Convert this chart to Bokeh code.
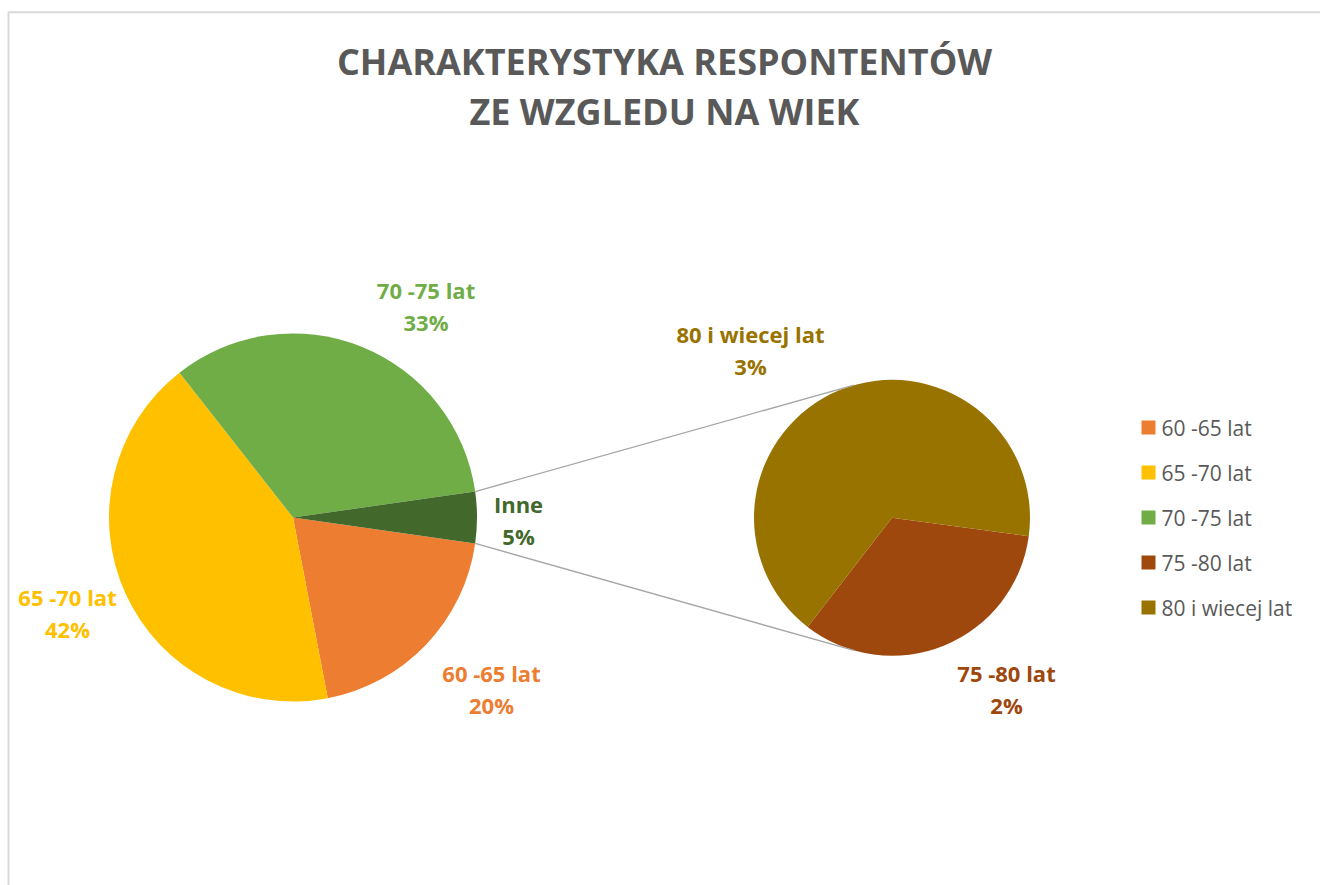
import math
from bokeh.plotting import figure
from bokeh.models import Range1d
from bokeh.core.properties import value
from bokeh.embed import file_html
from bokeh.resources import INLINE

# ---------------- data ----------------
title_lines = ["CHARAKTERYSTYKA RESPONTENTÓW", "ZE WZGLEDU NA WIEK"]
main_categories = ["60 -65 lat", "65 -70 lat", "70 -75 lat"]
main_values = [19.7, 42.4, 33.3]
other_categories = ["75 -80 lat", "80 i wiecej lat"]
other_values = [1.5, 3.0]
other_name = "Inne"
legend_labels = main_categories + other_categories

main_colors = ["#ED7D31", "#FFC000", "#70AD47"]
other_colors = ["#9E480E", "#997300"]
inne_color = "#43682B"
legend_colors = main_colors + other_colors

# ---------------- layout (page pixels) ----------------
W, H = 1320, 885
PX0, PY0 = 0, 0
MAIN_C = (292.5, 517.0)
MAIN_R = 184.0
SEC_C = (891.5, 517.3)
SEC_R = 138.0
SEC_START_DEG = -7.7
CONNECT_DEG = 106.0
# label anchors (centre of two-line block) in page pixels
main_label_xy = [(491, 688), (67, 612), (425.5, 305)]
inne_label_xy = (518, 519)
other_label_xy = [(1006, 688), (750, 349)]
LINE_GAP = 32

def Y(py):
    return -py

p = figure(width=W, height=H, output_backend="svg", toolbar_location=None,
           x_range=Range1d(PX0, PX0 + W), y_range=Range1d(-(PY0 + H), -PY0),
           x_axis_location=None, y_axis_location=None, min_border=0,
           background_fill_color="white", border_fill_color="white")
p.outline_line_color = None
p.grid.visible = False

# chart border (light gray)
p.line(x=[8, 8], y=[Y(11), Y(PY0 + H)], line_color="#D9D9D9", line_width=2)
p.line(x=[8, PX0 + W], y=[Y(11.8), Y(11.8)], line_color="#D9D9D9", line_width=2)

total = sum(main_values) + sum(other_values)
inne_val = sum(other_values)

def pct(v):
    return "%d%%" % int(v / total * 100 + 0.5)

# main pie
inne_ang = 2 * math.pi * inne_val / total
start = -inne_ang / 2
for v, c in zip(main_values, main_colors):
    a = 2 * math.pi * v / total
    p.wedge(x=MAIN_C[0], y=Y(MAIN_C[1]), radius=MAIN_R,
            start_angle=start - a, end_angle=start,
            fill_color=c, line_color=None)
    start -= a
p.wedge(x=MAIN_C[0], y=Y(MAIN_C[1]), radius=MAIN_R,
        start_angle=-inne_ang / 2, end_angle=inne_ang / 2,
        fill_color=inne_color, line_color=None)

# secondary pie
start = math.radians(SEC_START_DEG)
for v, c in zip(other_values, other_colors):
    a = 2 * math.pi * v / inne_val
    p.wedge(x=SEC_C[0], y=Y(SEC_C[1]), radius=SEC_R,
            start_angle=start - a, end_angle=start,
            fill_color=c, line_color=None)
    start -= a

# connector lines
for s in (1, -1):
    a1 = s * inne_ang / 2
    a2 = s * math.radians(CONNECT_DEG)
    x1 = MAIN_C[0] + MAIN_R * math.cos(a1)
    y1 = Y(MAIN_C[1]) + MAIN_R * math.sin(a1)
    x2 = SEC_C[0] + SEC_R * math.cos(a2)
    y2 = Y(SEC_C[1]) + SEC_R * math.sin(a2)
    p.line(x=[x1, x2], y=[y1, y2], line_color="#A6A6A6", line_width=1.3)

# data labels
def label(xy, name, pc, color):
    p.text(x=[xy[0], xy[0]], y=[Y(xy[1] - LINE_GAP / 2), Y(xy[1] + LINE_GAP / 2)],
           text=[name, pc], text_font=value("Open Sans"), text_font_style="bold",
           text_font_size="22px", text_color=color,
           text_align="center", text_baseline="middle")

for xy, n, v, c in zip(main_label_xy, main_categories, main_values, main_colors):
    label(xy, n, pct(v), c)
label(inne_label_xy, other_name, pct(inne_val), inne_color)
for xy, n, v, c in zip(other_label_xy, other_categories, other_values, other_colors):
    label(xy, n, pct(v), c)

# title
p.text(x=[664, 664], y=[Y(61), Y(111)], text=title_lines,
       text_font=value("Open Sans"), text_font_style="bold", text_font_size="36px",
       text_color="#595959", text_align="center", text_baseline="middle")

# legend
leg_y = [Y(427 + 45 * i) for i in range(len(legend_labels))]
p.rect(x=[1148] * len(legend_labels), y=leg_y, width=14, height=14,
       fill_color=legend_colors, line_color=None)
p.text(x=[1161] * len(legend_labels), y=leg_y, text=legend_labels,
       text_font=value("Open Sans"), text_font_size="21px", text_color="#595959",
       text_align="left", text_baseline="middle")

open("out.html", "w").write(file_html(p, INLINE))
